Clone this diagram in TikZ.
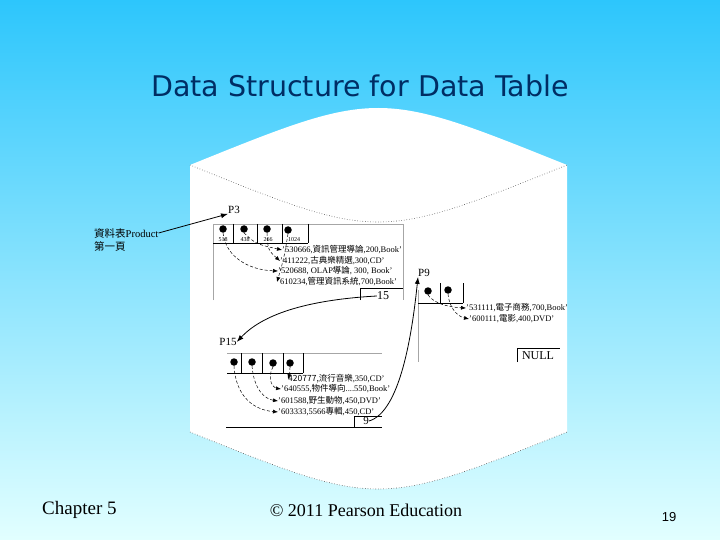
\documentclass[tikz,border=0pt]{standalone}
\usepackage{fontspec}
\setmainfont{Liberation Serif}
\newfontfamily\cjk{Noto Sans CJK TC}
\newfontfamily\tsans{Liberation Sans}
\newfontfamily\tsanstitle{DejaVu Sans}
\usetikzlibrary{arrows.meta}
\definecolor{bgtop}{RGB}{45,198,252}
\definecolor{bgbot}{RGB}{226,255,255}
\definecolor{navy}{RGB}{0,45,100}
\tikzset{
  lbl/.style={inner sep=0pt,font=\fontsize{11}{12}\selectfont},
  row/.style={anchor=west,inner sep=0pt,font=\fontsize{8.5}{9}\selectfont},
  num/.style={inner sep=0pt,font=\fontsize{6}{7}\selectfont},
  ptrdot/.style={circle,fill=black,inner sep=0pt,minimum size=7.5pt},
  ptr/.style={densely dashed,line width=0.5pt,-{Latex[length=5pt,width=4pt]}},
  link/.style={line width=0.8pt,-{Latex[length=7pt,width=5pt]}},
  frame/.style={line width=0.7pt},
  faint/.style={line width=0.6pt,black!35},
  edge/.style={dotted,line width=0.6pt,black!70}
}
\begin{document}
\begin{tikzpicture}[x=1pt,y=-1pt]
\useasboundingbox (0,0) rectangle (720,540);
\shade[top color=bgtop,bottom color=bgbot] (0,0) rectangle (720,540);
% cylinder
\fill[white] (190,165) .. controls (378,89) .. (567,165) -- (567,432)
  .. controls (378,508) .. (190,432) -- cycle;
\draw[edge] (190,165) .. controls (378,241) .. (567,165);
\draw[edge] (190,432) .. controls (378,508) .. (567,432);
% title
\node[font=\tsanstitle\fontsize{28.5}{30}\selectfont,text=navy,inner sep=0pt] (title) at (360,86) {Data Structure for Data Table};
% footer
\node[font=\fontsize{19}{21}\selectfont,anchor=west,inner sep=0pt] (chap) at (42,510) {Chapter 5};
\node[font=\fontsize{18}{20}\selectfont,inner sep=0pt] (copy) at (366,510) {\textcopyright{} 2011 Pearson Education};
\node[font=\tsans\fontsize{13}{15}\selectfont,inner sep=0pt] (page) at (669,517) {19};
% left label
\node[anchor=west,inner sep=0pt,font=\fontsize{10.5}{11}\selectfont] (lab1) at (94,233) {{\cjk 資料表}Product};
\node[anchor=west,inner sep=0pt,font=\fontsize{10.5}{11}\selectfont] (lab2) at (94,246) {\cjk 第一頁};
% ---------------- P3 ----------------
\node[lbl] (p3) at (234,210) {P3};
\draw[link] (lab1.east) -- (p3.south west);
\draw[faint] (213,300) -- (213,224) -- (403,224) -- (403,300);
\draw[frame] (213,243) -- (308,243);
\foreach \x in {233,257,282,308} \draw[frame] (\x,224) -- (\x,243);
\node[ptrdot] (d1) at (223,229) {};
\node[ptrdot] (d2) at (244,229) {};
\node[ptrdot] (d3) at (267,229) {};
\node[ptrdot] (d4) at (288,230) {};
\node[num] (n1) at (223,239.5) {518};
\node[num] (n2) at (245,239.5) {438};
\node[num] (n3) at (268,239.5) {266};
\node[num] (n4) at (294,239.5) {1024};
\node[row] (r1) at (282,250) {'530666,{\cjk 資訊管理導論},200,Book'};
\node[row] (r2) at (280,261) {'411222,{\cjk 古典樂精選},300,CD'};
\node[row] (r3) at (278,271) {'520688, OLAP{\cjk 導論}, 300, Book'};
\node[row] (r4) at (277,282) {'610234,{\cjk 管理資訊系統},700,Book'};
\draw[ptr] (d1.south) .. controls (226,258) and (250,270) .. (r3.west);
\draw[ptr] (d2.south) .. controls (256,244) .. (r1.west);
\draw[ptr] (d3.south) .. controls (268,250) .. (r2.west);
\draw[ptr] (d4.south) .. controls (284,258) .. (r4.west);
\draw[frame] (360,300) -- (360,288) -- (403,288);
\node[lbl,font=\fontsize{12}{13}\selectfont] (c15) at (383,296) {15};
% ---------------- P15 ----------------
\node[lbl] (p15) at (228,342) {P15};
\draw[link] (c15.west) .. controls (305,300) and (262,315) .. (p15.east);
\draw[faint] (227,353) -- (382,353);
\draw[frame] (227,373) -- (303,373);
\foreach \x in {241,262,283,303} \draw[frame] (\x,353) -- (\x,373);
\node[ptrdot] (e1) at (234,362) {};
\node[ptrdot] (e2) at (252,362) {};
\node[ptrdot] (e3) at (273,363) {};
\node[ptrdot] (e4) at (290,363) {};
\node[row] (s1) at (288,379) {{\cjk 420777,流行音樂},350,CD'};
\node[row] (s2) at (281,389) {'640555,{\cjk 物件導向}....550,Book'};
\node[row] (s3) at (278,401) {'601588,{\cjk 野生動物},450,DVD'};
\node[row] (s4) at (278,412) {'603333,5566{\cjk 專輯},450,CD'};
\draw[ptr] (e1.south) .. controls (236,398) and (255,410) .. (s4.west);
\draw[ptr] (e2.south) .. controls (254,390) and (265,399) .. (s3.west);
\draw[ptr] (e3.south) .. controls (266,380) and (274,388) .. (s2.west);
\draw[ptr] (e4.south) .. controls (290,372) .. (s1.west);
\draw[frame] (226,427) -- (382,427);
\draw[frame] (354,427) -- (354,416) -- (382,416);
\node[lbl] (c9) at (366,421) {9};
% ---------------- P9 ----------------
\node[lbl] (p9) at (424,273) {P9};
\draw[link] (c9.east) .. controls (400,412) and (412,335) .. (p9.south west);
\draw[faint] (418,290) -- (418,362);
\draw[frame] (418,303) -- (463,303);
\foreach \x in {440,463} \draw[frame] (\x,283) -- (\x,303);
\node[ptrdot] (f1) at (428,291) {};
\node[ptrdot] (f2) at (448,290) {};
\node[row] (q1) at (466,308) {'531111,{\cjk 電子商務},700,Book'};
\node[row] (q2) at (469,319) {'600111,{\cjk 電影},400,DVD'};
\draw[ptr] (f1.south) .. controls (433,302) and (445,307) .. (q1.west);
\draw[ptr] (f2.south) .. controls (449,306) and (456,316) .. (q2.west);
% NULL
\draw[frame] (517,362) -- (517,348) -- (560,348);
\node[lbl,font=\fontsize{12}{13}\selectfont] (null) at (538,356) {NULL};
\end{tikzpicture}
\end{document}
